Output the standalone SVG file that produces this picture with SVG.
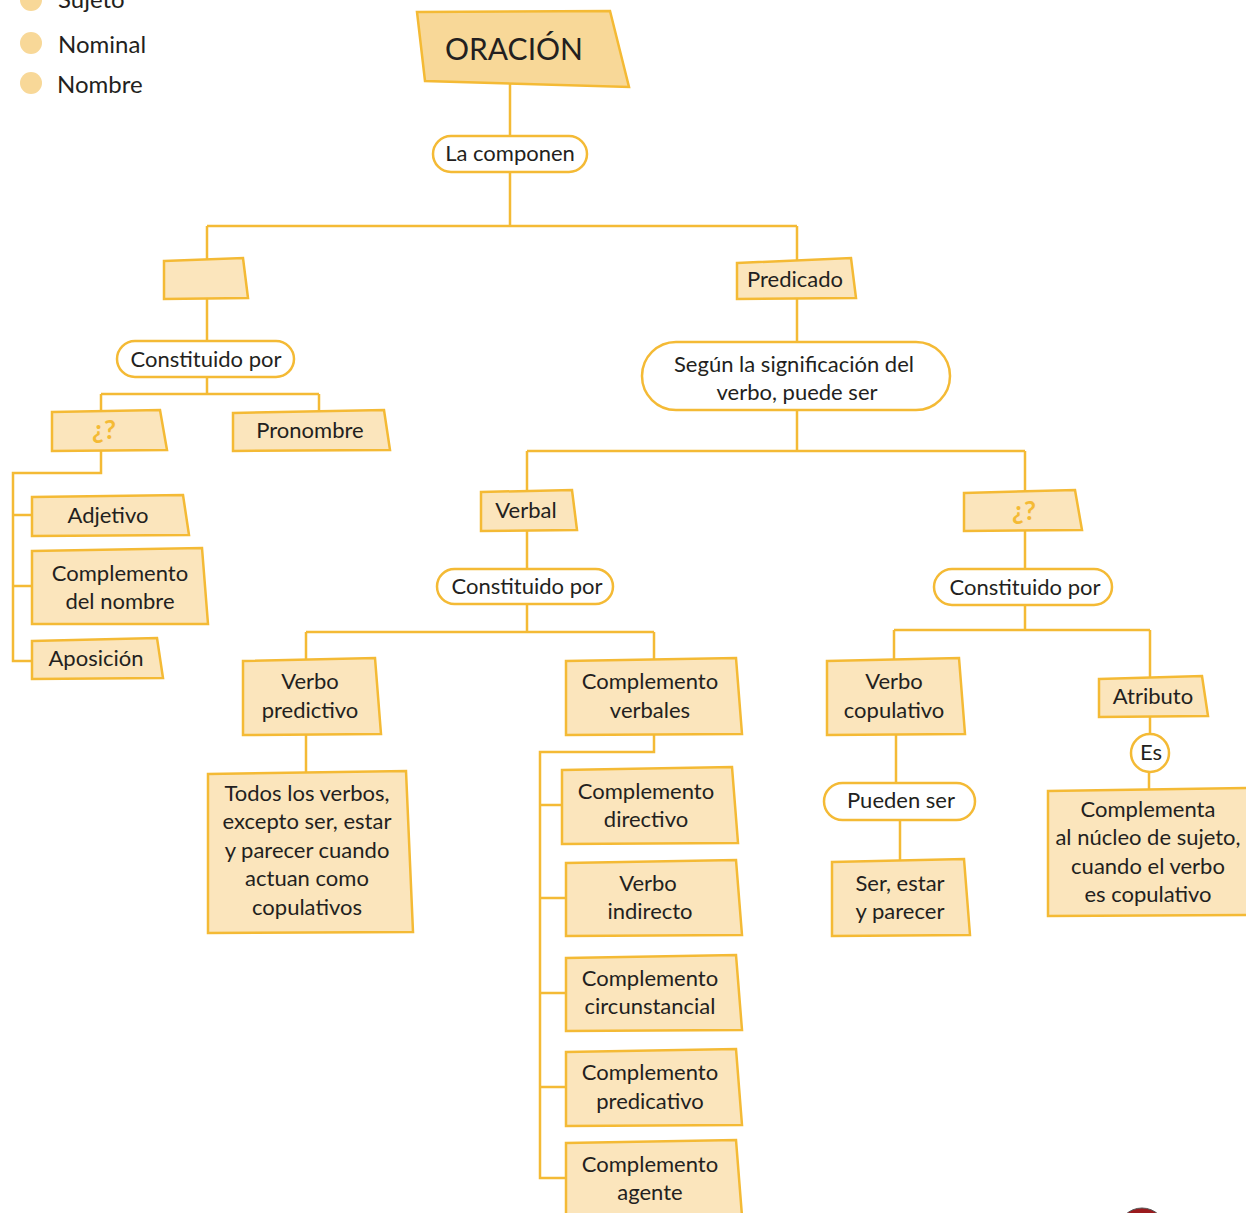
<svg xmlns="http://www.w3.org/2000/svg" width="1246" height="1213" viewBox="0 0 1246 1213">
<style>
  .bx{fill:#FBE5BC;stroke:#F4BA35;stroke-width:2.5;stroke-linejoin:miter}
  .main{fill:#F8D898;stroke:#F4BA35;stroke-width:2.5}
  .pill{fill:#FFFFFF;stroke:#F4BA35;stroke-width:2.5}
  .ln{fill:none;stroke:#F4BA35;stroke-width:2.5}
  text{font-family:Lato,"Open Sans","Liberation Sans",sans-serif;font-size:22px;fill:#231F20;text-anchor:middle;dominant-baseline:central}
  .q{fill:#F4BA35;font-weight:bold;font-size:26px}
  .leg{text-anchor:start;font-size:24px}
  .dot{fill:#F8D898}
</style>
<rect width="1246" height="1213" fill="#FFFFFF"/>
<g id="legend">
  <circle class="dot" cx="31" cy="0" r="11"/>
  <text class="leg" x="58" y="-2">Sujeto</text>
  <circle class="dot" cx="31" cy="43" r="11"/>
  <text class="leg" x="58" y="43">Nominal</text>
  <circle class="dot" cx="31" cy="83" r="11"/>
  <text class="leg" x="57" y="83">Nombre</text>
</g>
<g id="connectors">
  <path class="ln" d="M510 81V136M510 172V226M207 226H797M207 226V260M797 226V262"/>
  <path class="ln" d="M207 299V341M207 377V394M101 394H319M101 394V412M319 394V411"/>
  <path class="ln" d="M101 451V473H13V661H32M13 515H32M13 586H32"/>
  <path class="ln" d="M797 299V342M797 410V451M527 451H1025M527 451V492M1025 451V491"/>
  <path class="ln" d="M527 531V569M527 604V632M306 632H654M306 632V660M654 632V660M306 735V773"/>
  <path class="ln" d="M654 735V752H540V1178H566M540 805H562M540 898H566M540 993H566M540 1087H566"/>
  <path class="ln" d="M1025 531V569M1025 605V630M894 630H1150M894 630V660M1150 630V678"/>
  <path class="ln" d="M896 735V783M900 820V861M1150 717V734M1149 772V790"/>
</g>
<g id="oracion"><polygon class="main" points="417,12 610,11 629,87 425,81"/><text x="514" y="48" style="font-size:30px">ORACIÓN</text></g>
<g id="la-componen"><rect class="pill" x="433" y="136" width="154" height="36" rx="18"/><text x="510" y="152">La componen</text></g>
<g id="sujeto"><polygon class="bx" points="164,261 243,258 248,298 164,299"/></g>
<g id="constituido1"><rect class="pill" x="117" y="341" width="177" height="36" rx="18"/><text x="206" y="358">Constituido por</text></g>
<g id="q1"><polygon class="bx" points="52,412 160,410 167,450 52,451"/><text class="q" x="104" y="429">¿?</text></g>
<g id="pronombre"><polygon class="bx" points="233,413 384,410 390,450 233,451"/><text x="310" y="429">Pronombre</text></g>
<g id="adjetivo"><polygon class="bx" points="32,497 183,495 189,535 32,536"/><text x="108" y="514">Adjetivo</text></g>
<g id="comp-nombre"><polygon class="bx" points="32,551 202,548 208,624 32,624"/><text x="120" y="572">Complemento</text><text x="120" y="600">del nombre</text></g>
<g id="aposicion"><polygon class="bx" points="32,641 157,638 163,678 32,679"/><text x="96" y="657">Aposición</text></g>
<g id="predicado"><polygon class="bx" points="737,263 851,258 856,298 737,299"/><text x="795" y="278">Predicado</text></g>
<g id="segun"><rect class="pill" x="642" y="342" width="308" height="68" rx="34"/><text x="794" y="363">Según la significación del</text><text x="797" y="391">verbo, puede ser</text></g>
<g id="verbal"><polygon class="bx" points="481,492 572,490 577,530 481,531"/><text x="526" y="509">Verbal</text></g>
<g id="constituido2"><rect class="pill" x="437" y="569" width="176" height="35" rx="17.5"/><text x="527" y="585">Constituido por</text></g>
<g id="verbo-predictivo"><polygon class="bx" points="243,661 375,658 381,734 243,735"/><text x="310" y="680">Verbo</text><text x="310" y="709">predictivo</text></g>
<g id="todos"><polygon class="bx" points="208,774 406,771 413,932 208,933"/><text x="307" y="792">Todos los verbos,</text><text x="307" y="820">excepto ser, estar</text><text x="307" y="849">y parecer cuando</text><text x="307" y="877">actuan como</text><text x="307" y="906">copulativos</text></g>
<g id="comp-verbales"><polygon class="bx" points="566,661 736,658 742,734 566,735"/><text x="650" y="680">Complemento</text><text x="650" y="709">verbales</text></g>
<g id="comp-directivo"><polygon class="bx" points="562,770 732,767 738,843 562,844"/><text x="646" y="790">Complemento</text><text x="646" y="818">directivo</text></g>
<g id="verbo-indirecto"><polygon class="bx" points="566,863 736,860 742,935 566,936"/><text x="648" y="882">Verbo</text><text x="650" y="910">indirecto</text></g>
<g id="comp-circ"><polygon class="bx" points="566,958 736,955 742,1030 566,1031"/><text x="650" y="977">Complemento</text><text x="650" y="1005">circunstancial</text></g>
<g id="comp-pred"><polygon class="bx" points="566,1052 736,1049 742,1125 566,1126"/><text x="650" y="1071">Complemento</text><text x="650" y="1100">predicativo</text></g>
<g id="comp-agente"><polygon class="bx" points="566,1143 736,1140 742,1216 566,1217"/><text x="650" y="1163">Complemento</text><text x="650" y="1191">agente</text></g>
<g id="q2"><polygon class="bx" points="964,493 1075,490 1082,530 964,531"/><text class="q" x="1024" y="510">¿?</text></g>
<g id="constituido3"><rect class="pill" x="934" y="569" width="178" height="36" rx="18"/><text x="1025" y="586">Constituido por</text></g>
<g id="verbo-copulativo"><polygon class="bx" points="827,661 959,658 965,734 827,735"/><text x="894" y="680">Verbo</text><text x="894" y="709">copulativo</text></g>
<g id="pueden-ser"><rect class="pill" x="824" y="783" width="151" height="37" rx="18.5"/><text x="901" y="799">Pueden ser</text></g>
<g id="ser-estar"><polygon class="bx" points="832,862 964,859 970,935 832,936"/><text x="900" y="882">Ser, estar</text><text x="900" y="910">y parecer</text></g>
<g id="atributo"><polygon class="bx" points="1099,679 1202,676 1208,716 1099,717"/><text x="1153" y="695">Atributo</text></g>
<g id="es"><circle class="pill" cx="1150" cy="753" r="19"/><text x="1151" y="751">Es</text></g>
<g id="complementa"><polygon class="bx" points="1048,791 1250,788 1250,915 1048,916"/><text x="1148" y="808">Complementa</text><text x="1148" y="836">al núcleo de sujeto,</text><text x="1148" y="865">cuando el verbo</text><text x="1148" y="893">es copulativo</text></g>
<circle cx="1142" cy="1232" r="24" fill="#9B1B1E" stroke="#555" stroke-width="1"/>
</svg>
